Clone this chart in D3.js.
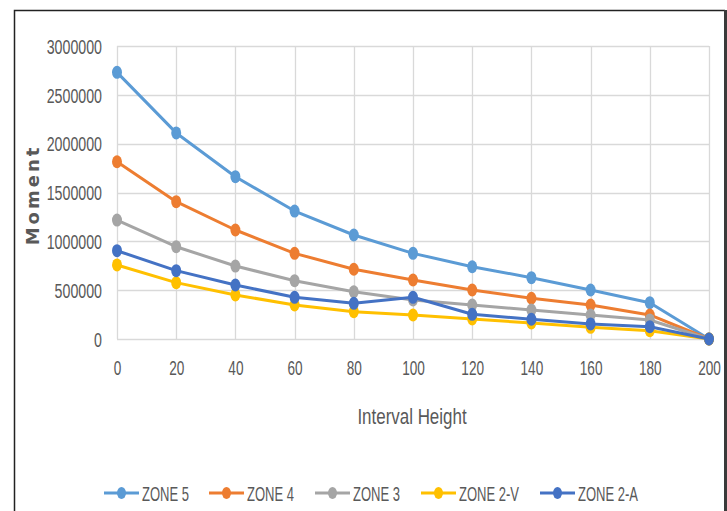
<!DOCTYPE html>
<html>
<head>
<meta charset="utf-8">
<script src="https://cdn.jsdelivr.net/npm/d3@7"></script>
<style>
  html, body { margin: 0; padding: 0; background: #fff; }
  svg { display: block; }
</style>
</head>
<body>
<svg id="chart" width="727" height="511"></svg>
<script>
// Interval heights along the x axis
const heights = [0, 20, 40, 60, 80, 100, 120, 140, 160, 180, 200];

// Moment per zone at each interval height
const zone5  = [2730000, 2110000, 1662000, 1310000, 1065000, 877000, 740000, 628000, 502000, 372000, 0];
const zone4  = [1815000, 1406000, 1116000, 877000, 714000, 604000, 502000, 417000, 348000, 246000, 0];
const zone3  = [1218000, 945000, 747000, 597000, 484000, 400000, 348000, 297000, 246000, 195000, 0];
const zone2V = [758000, 577000, 451000, 348000, 280000, 246000, 205000, 164000, 120000, 85000, 0];
const zone2A = [904000, 700000, 553000, 427000, 365000, 427000, 253000, 202000, 154000, 126000, 0];

const seriesNames = ["ZONE 5", "ZONE 4", "ZONE 3", "ZONE 2-V", "ZONE 2-A"];
const seriesValues = [zone5, zone4, zone3, zone2V, zone2A];
const seriesColors = ["#5B9BD5", "#ED7D31", "#A5A5A5", "#FFC000", "#4472C4"];

const yTicks = [0, 500000, 1000000, 1500000, 2000000, 2500000, 3000000];

const svg = d3.select("#chart");
const textColor = "#595959";
const gridColor = "#d9d9d9";
const labelFont = "'Liberation Sans', Arial, sans-serif";

// Squeeze text horizontally to give a condensed look
function condense(sel, k) {
  sel.each(function () {
    const w = this.getComputedTextLength();
    d3.select(this).attr("textLength", w * k).attr("lengthAdjust", "spacingAndGlyphs");
  });
}

const x = d3.scaleLinear().domain([0, 200]).range([117, 709]);
const y = d3.scaleLinear().domain([0, 3000000]).range([339, 46]);

// Outer frame
svg.append("path")
  .attr("d", "M14.5,520 V10.5 H725")
  .attr("fill", "none").attr("stroke", "#222").attr("stroke-width", 1.5);
svg.append("line")
  .attr("x1", 725.5).attr("x2", 725.5).attr("y1", 10).attr("y2", 520)
  .attr("stroke", "#3a3a3a").attr("stroke-width", 3);

// Gridlines
const grid = svg.append("g");
grid.selectAll("line.h").data(yTicks).join("line")
  .attr("class", "h")
  .attr("x1", x(0)).attr("x2", x(200))
  .attr("y1", d => Math.round(y(d)) + 0.5).attr("y2", d => Math.round(y(d)) + 0.5)
  .attr("stroke", gridColor).attr("stroke-width", 1.3);
grid.selectAll("line.v").data(heights).join("line")
  .attr("class", "v")
  .attr("x1", d => Math.round(x(d)) + 0.5).attr("x2", d => Math.round(x(d)) + 0.5)
  .attr("y1", y(3000000)).attr("y2", y(0))
  .attr("stroke", gridColor).attr("stroke-width", 1.3);

// Y axis labels
const yAxis = svg.append("g")
  .attr("transform", "translate(102,0)")
  .call(d3.axisLeft(y).tickValues(yTicks).tickSize(0).tickPadding(0).tickFormat(d3.format("d")));
yAxis.select(".domain").remove();
yAxis.selectAll("text")
  .attr("fill", textColor).attr("font-family", labelFont).attr("font-size", 20)
  .attr("dy", "0.36em")
  .call(condense, 0.71);

// X axis labels
const xAxis = svg.append("g")
  .attr("transform", "translate(0,360)")
  .call(d3.axisBottom(x).tickValues(heights).tickSize(0).tickPadding(0).tickFormat(d3.format("d")));
xAxis.select(".domain").remove();
xAxis.selectAll("text")
  .attr("fill", textColor).attr("font-family", labelFont).attr("font-size", 20)
  .attr("dy", "0.75em")
  .call(condense, 0.68);

// Axis titles
svg.append("text")
  .attr("x", 412).attr("y", 424)
  .attr("text-anchor", "middle")
  .attr("fill", textColor).attr("font-family", labelFont).attr("font-size", 22)
  .text("Interval Height")
  .call(condense, 0.77);

svg.append("text")
  .attr("transform", "translate(39,195) rotate(-90)")
  .attr("text-anchor", "middle")
  .attr("fill", textColor).attr("font-family", "'DejaVu Sans', sans-serif")
  .attr("font-weight", "bold").attr("font-size", 18).attr("letter-spacing", 3)
  .text("Moment");

// Series lines and markers
const line = d3.line().x((d, i) => x(heights[i])).y(d => y(d));
const plot = svg.append("g");
seriesValues.forEach((vals, s) => {
  const g = plot.append("g");
  g.append("path")
    .attr("d", line(vals))
    .attr("fill", "none").attr("stroke", seriesColors[s])
    .attr("stroke-width", 3).attr("stroke-linejoin", "round");
  g.selectAll("ellipse").data(vals).join("ellipse")
    .attr("cx", (d, i) => x(heights[i])).attr("cy", d => y(d))
    .attr("rx", 5).attr("ry", 6.5)
    .attr("fill", seriesColors[s]);
});

// Legend
const legendX = [104, 209, 315, 421, 540];
const legend = svg.append("g").attr("transform", "translate(0,493)");
seriesNames.forEach((name, s) => {
  const g = legend.append("g").attr("transform", `translate(${legendX[s]},0)`);
  g.append("line").attr("x1", 0).attr("x2", 35).attr("y1", 0).attr("y2", 0)
    .attr("stroke", seriesColors[s]).attr("stroke-width", 3);
  g.append("ellipse").attr("cx", 17.5).attr("cy", 0).attr("rx", 4.5).attr("ry", 6)
    .attr("fill", seriesColors[s]);
  g.append("text").attr("x", 38).attr("y", 0).attr("dy", "0.36em")
    .attr("fill", textColor).attr("font-family", labelFont).attr("font-size", 21)
    .text(name)
    .call(condense, 0.62);
});
</script>
</body>
</html>
